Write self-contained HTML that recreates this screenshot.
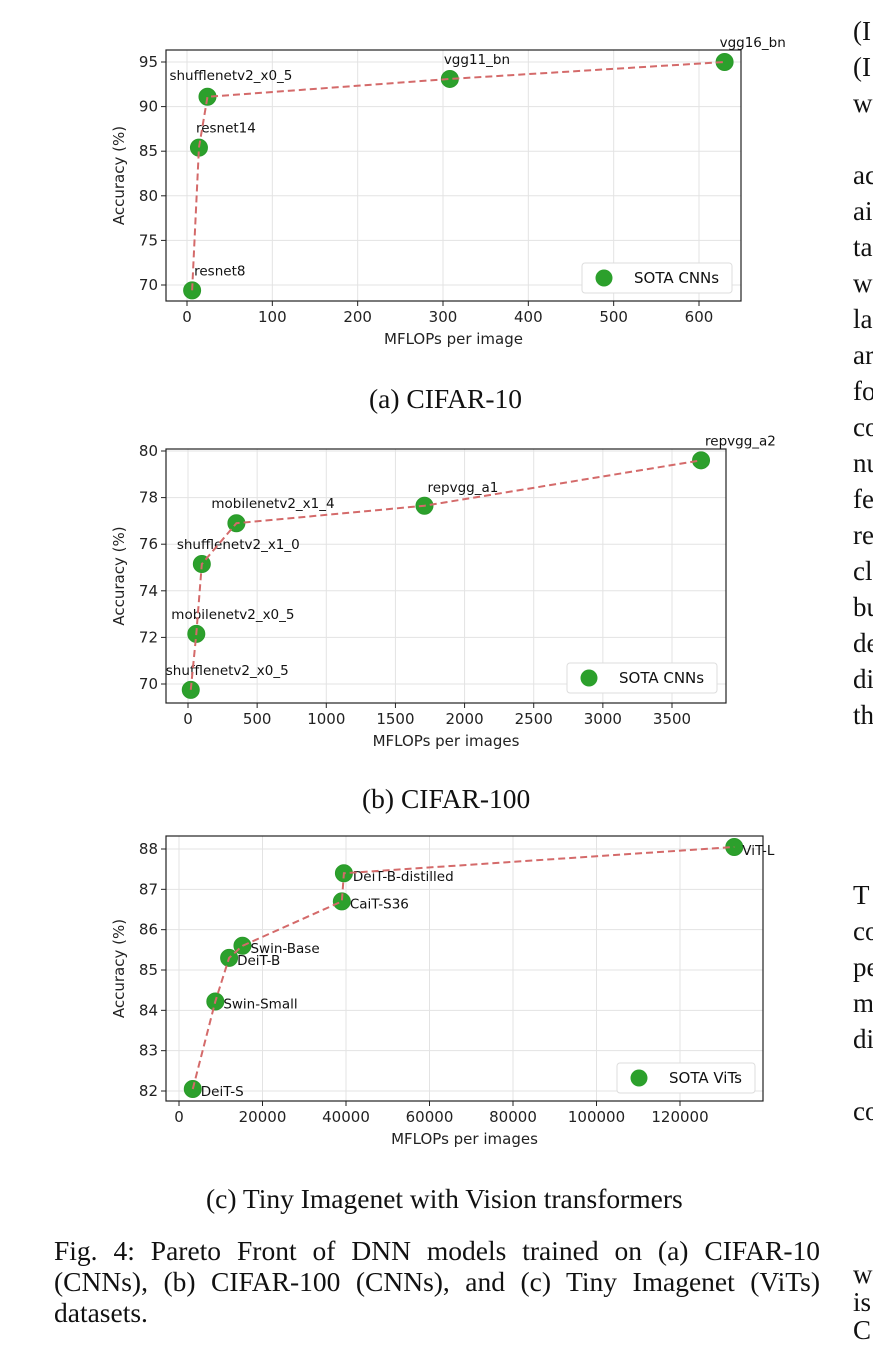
<!DOCTYPE html>
<html><head><meta charset="utf-8"><style>
body{margin:0;background:#fff;width:873px;height:1369px;overflow:hidden;position:relative;font-family:"Liberation Serif","Times New Roman",serif}
svg{position:absolute;left:0;top:0}
.cap{position:absolute;font-size:27.5px;color:#111;white-space:nowrap}
.rt{position:absolute;left:853px;font-size:27px;color:#111;white-space:nowrap;line-height:36px}
.jl{text-align:justify;text-align-last:justify;width:766px;white-space:normal}
</style></head><body>
<svg id="s" width="873" height="1369"></svg>
<div class="cap" style="left:369px;top:383px">(a) CIFAR-10</div>
<div class="cap" style="left:362px;top:783px">(b) CIFAR-100</div>
<div class="cap" style="left:206px;top:1183px">(c) Tiny Imagenet with Vision transformers</div>
<div class="cap" style="left:54px;top:1235px;line-height:31px">
<div class="jl">Fig. 4: Pareto Front of DNN models trained on (a) CIFAR-10</div>
<div class="jl">(CNNs), (b) CIFAR-100 (CNNs), and (c) Tiny Imagenet (ViTs)</div>
<div>datasets.</div></div>
<div class="rt" style="top:13px">(I<br>(I<br>w<br><br>ac<br>ai<br>ta<br>w<br>la<br>ar<br>fo<br>co<br>nu<br>fe<br>re<br>cl<br>bu<br>de<br>di<br>th</div>
<div class="rt" style="top:877px">T<br>co<br>pe<br>m<br>di<br><br>co</div>
<div class="rt" style="top:1260px;line-height:28px">w<br>is<br>C</div>
<script>
const c1Names=["resnet8","resnet14","shufflenetv2_x0_5","vgg11_bn","vgg16_bn"];
const c1X=[6,14,24,308,630];
const c1Y=[69.4,85.4,91.1,93.1,95];
const c1XTicks=[0,100,200,300,400,500,600];
const c1YTicks=[70,75,80,85,90,95];
const c2Names=["shufflenetv2_x0_5","mobilenetv2_x0_5","shufflenetv2_x1_0","mobilenetv2_x1_4","repvgg_a1","repvgg_a2"];
const c2X=[20,60,100,350,1710,3710];
const c2Y=[69.75,72.15,75.15,76.9,77.65,79.6];
const c2XTicks=[0,500,1000,1500,2000,2500,3000,3500];
const c2YTicks=[70,72,74,76,78,80];
const c3Names=["DeiT-S","Swin-Small","DeiT-B","Swin-Base","CaiT-S36","DeiT-B-distilled","ViT-L"];
const c3X=[3300,8700,12000,15200,39000,39500,133000];
const c3Y=[82.05,84.22,85.3,85.6,86.7,87.4,88.05];
const c3XTicks=[0,20000,40000,60000,80000,100000,120000];
const c3YTicks=[82,83,84,85,86,87,88];

const S=document.getElementById('s');const NS='http://www.w3.org/2000/svg';
function mk(t,a,p){const e=document.createElementNS(NS,t);for(const k in a)e.setAttribute(k,a[k]);(p||S).appendChild(e);return e;}
const F='DejaVu Sans, Liberation Sans, sans-serif';
function chart(o){
  const g=mk('g',{});
  
  
  const sx=v=>o.px0+(v-o.x0)*(o.px1-o.px0)/(o.x1-o.x0);
  const sy=v=>o.py0+(v-o.y0)*(o.py1-o.py0)/(o.y1-o.y0);
  o.xt.forEach(t=>{const x=sx(t);mk('line',{x1:x,x2:x,y1:o.top,y2:o.bot,stroke:'#e3e3e3','stroke-width':1},g);
    mk('line',{x1:x,x2:x,y1:o.bot,y2:o.bot+5,stroke:'#222'},g);
    const tx=mk('text',{x:x,y:o.bot+21,'font-size':15,'font-family':F,'text-anchor':'middle',fill:'#222'},g);tx.textContent=t;
    
    });
  o.yt.forEach(t=>{const y=sy(t);mk('line',{x1:o.left,x2:o.right,y1:y,y2:y,stroke:'#e3e3e3','stroke-width':1},g);
    mk('line',{x1:o.left-5,x2:o.left,y1:y,y2:y,stroke:'#222'},g);
    const tx=mk('text',{x:o.left-8,y:y+5,'font-size':15,'font-family':F,'text-anchor':'end',fill:'#222'},g);tx.textContent=t;
    
    });
  mk('rect',{x:o.left,y:o.top,width:o.right-o.left,height:o.bot-o.top,fill:'none',stroke:'#222','stroke-width':1.2},g);
  o.xs.forEach((v,i)=>{const x=sx(v),y=sy(o.ys[i]);
    const c=mk('circle',{cx:x,cy:y,r:8.5,fill:'#2ca02c',stroke:'#2a9a2a'},g);
    
    
    const t=mk('text',{x:x+o.dx[i],y:y+o.dy[i],'font-size':13.5,'font-family':F,fill:'#111'},g);t.textContent=o.names[i];
    
    });
  const pts=o.xs.map((v,i)=>sx(v)+','+sy(o.ys[i])).join(' ');
  const ln=mk('polyline',{points:pts,fill:'none',stroke:'#d46a6a','stroke-width':2,'stroke-dasharray':'7,4'},g);
  
  
  const L=o.leg;
  const lg=mk('g',{},g);
  
  
  mk('rect',{x:L[0],y:L[1],width:L[2],height:30,rx:3,fill:'#fff',stroke:'#ddd'},lg);
  mk('circle',{cx:L[0]+22,cy:L[1]+15,r:8.5,fill:'#2ca02c'},lg);
  const lt=mk('text',{x:L[0]+52,y:L[1]+20,'font-size':15,'font-family':F,fill:'#111'},lg);lt.textContent=o.legText;
  const xl=mk('text',{x:(o.left+o.right)/2,y:o.bot+43,'font-size':15,'font-family':F,'text-anchor':'middle',fill:'#222'},g);xl.textContent=o.xlab;
  
  
  const cy=(o.top+o.bot)/2;
  const yl=mk('text',{x:124,y:cy,'font-size':15,'font-family':F,'text-anchor':'middle',fill:'#222',transform:'rotate(-90 124 '+cy+')'},g);yl.textContent='Accuracy (%)';
  
  
}
chart({name:'chart-cifar10',names:c1Names,xs:c1X,ys:c1Y,xt:c1XTicks,yt:c1YTicks,left:166,right:741,top:50,bot:301,
  x0:0,x1:600,px0:187,px1:699,y0:70,y1:95,py0:285,py1:62,
  dx:[2,-3,-38,-6,-5],dy:[-15,-15,-17,-15,-15],leg:[582,263,150],legText:'SOTA CNNs',xlab:'MFLOPs per image'});
chart({name:'chart-cifar100',names:c2Names,xs:c2X,ys:c2Y,xt:c2XTicks,yt:c2YTicks,left:166,right:726,top:449,bot:703,
  x0:0,x1:3500,px0:188,px1:672,y0:70,y1:80,py0:684,py1:451,
  dx:[-25,-25,-25,-25,3,4],dy:[-15,-15,-15,-15,-14,-15],leg:[567,663,150],legText:'SOTA CNNs',xlab:'MFLOPs per images'});
chart({name:'chart-tiny-imagenet',names:c3Names,xs:c3X,ys:c3Y,xt:c3XTicks,yt:c3YTicks,left:166,right:763,top:836,bot:1101,
  x0:0,x1:120000,px0:179,px1:680,y0:82,y1:88,py0:1091,py1:849,
  dx:[8,8,8,8,8,9,8],dy:[7,7,7,7,7,8,8],leg:[617,1063,138],legText:'SOTA ViTs',xlab:'MFLOPs per images'});
</script>
</body></html>
